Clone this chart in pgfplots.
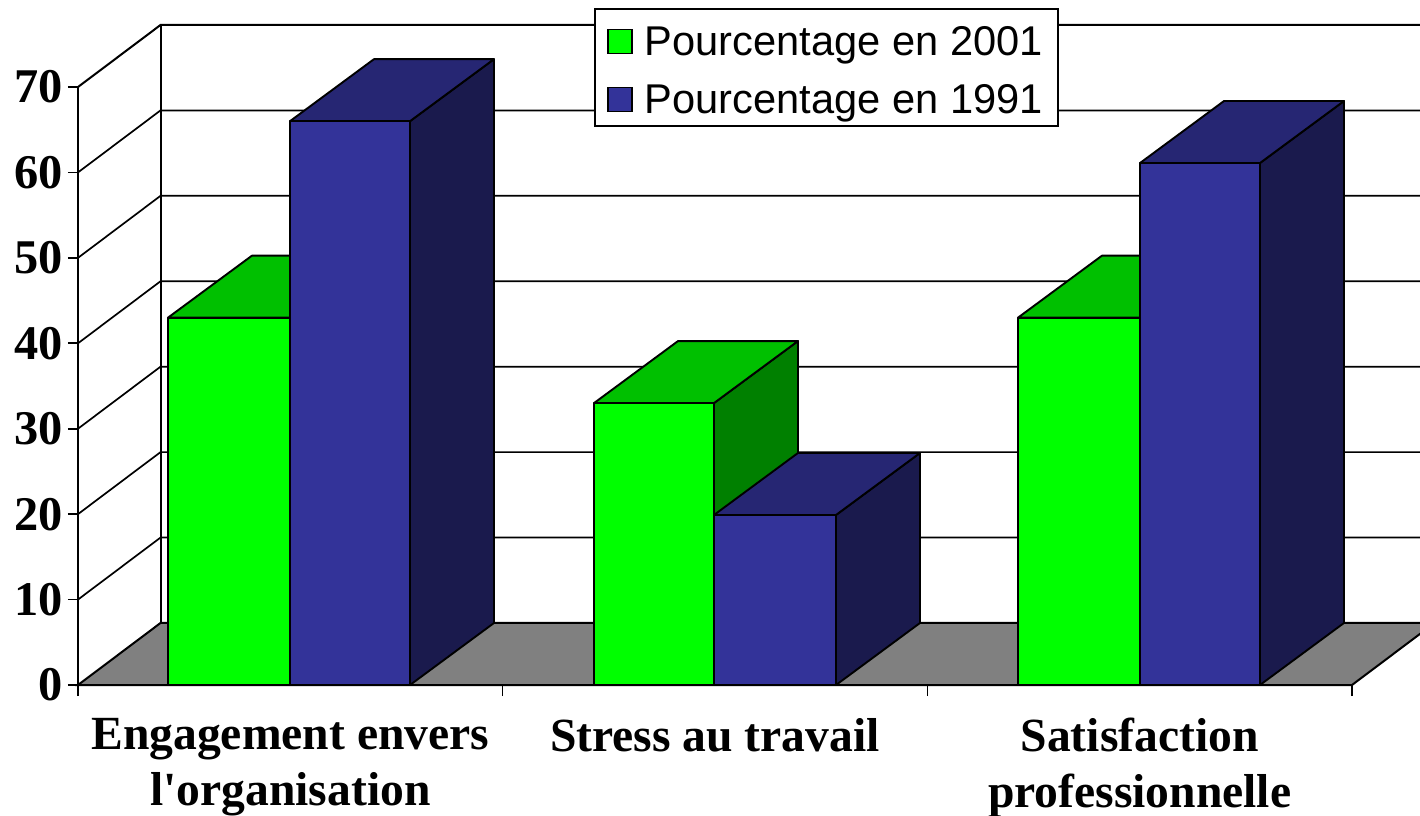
\documentclass[border=0pt]{standalone}
\usepackage{pgfplots}
\pgfplotsset{compat=1.18}
\usepackage{fontspec}
\newfontfamily\labfont{Liberation Serif}
\newfontfamily\legfont{Liberation Sans}
\definecolor{gfront}{HTML}{00FF00}
\definecolor{gtop}{HTML}{00C000}
\definecolor{gside}{HTML}{008000}
\definecolor{bfront}{HTML}{333399}
\definecolor{btop}{HTML}{262673}
\definecolor{bside}{HTML}{1A1A4D}
\definecolor{floorc}{HTML}{808080}
\def\dX{0.1978}
\def\dY{7.26}
\newcommand{\facepoly}[9]{%
  \edef\tmp{\noexpand\addplot[forget plot,fill=#9,draw=black,line width=0.95pt,line join=round] coordinates {(#1,#2) (#3,#4) (#5,#6) (#7,#8)} --cycle;}\tmp}
\newcommand{\barbox}[6]{% x0, x1, value, front, top, side
  \pgfmathsetmacro\xa{#1+\dX}\pgfmathsetmacro\xb{#2+\dX}\pgfmathsetmacro\vt{#3+\dY}%
  \facepoly{#2}{0}{\xb}{\dY}{\xb}{\vt}{#2}{#3}{#6}%
  \facepoly{#1}{#3}{#2}{#3}{\xb}{\vt}{\xa}{\vt}{#5}%
  \facepoly{#1}{0}{#2}{0}{#2}{#3}{#1}{#3}{#4}%
}
\begin{document}
\begin{tikzpicture}
\path[clip,use as bounding box] (-39pt,-65pt) rectangle (671pt,342.5pt);
\begin{axis}[
  at={(0pt,0pt)},anchor=origin,
  scale only axis,width=637pt,height=299pt,
  xmin=0,xmax=3,ymin=0,ymax=70,
  clip=false,
  axis x line=bottom,axis y line=left,
  axis line style={-,line width=1pt,black},
  xtick={0.5,1.5,2.5},
  xticklabels={{Engagement envers\\l'organisation},{Stress au travail},{Satisfaction\\professionnelle}},
  minor xtick={0,1,2,3},
  ytick={0,10,20,30,40,50,60,70},
  major tick style={black,line width=0.8pt},
  minor tick style={black,line width=0.8pt},
  xtick style={draw=none},
  minor x tick style={draw=black},
  minor tick length=5.5pt,
  major tick length=5pt,
  tick align=outside,
  /pgf/number format/assume math mode=true,
  yticklabel style={font=\labfont\bfseries\fontsize{24.2}{28}\selectfont,inner sep=0pt,xshift=-2.5pt},
  xticklabel style={font=\labfont\bfseries\fontsize{23.8}{28}\selectfont,align=center,anchor=north,inner sep=0pt,yshift=-11.4pt},
  legend style={at={(axis cs:1.2151,79.25)},anchor=north west,draw=black,fill=white,line width=0.9pt,
    font=\legfont\fontsize{20.8}{24}\selectfont,inner xsep=5.5pt,inner ysep=2.5pt,
    nodes={text height=19pt},
    /tikz/row sep=4.5pt},
  legend cell align=left,
  legend image code/.code={\draw[#1,line width=0.7pt] (1pt,-7.5pt) rectangle (13pt,4.5pt);\path[draw=none,fill=none] (0pt,0pt) -- (17.5pt,0pt);},
]
% walls and gridlines
\addplot[forget plot,draw=black,line width=1pt] coordinates {(0.1943,7.26) (0.1943,77.26)};
\addplot[forget plot,draw=black,line width=1pt] coordinates {(0,70) (0.1943,77.26) (3.1943,77.26)};
\addplot[forget plot,draw=black,line width=0.85pt] coordinates {(0,60) (0.1943,67.26) (3.1943,67.26)};
\addplot[forget plot,draw=black,line width=0.85pt] coordinates {(0,50) (0.1943,57.26) (3.1943,57.26)};
\addplot[forget plot,draw=black,line width=0.85pt] coordinates {(0,40) (0.1943,47.26) (3.1943,47.26)};
\addplot[forget plot,draw=black,line width=0.85pt] coordinates {(0,30) (0.1943,37.26) (3.1943,37.26)};
\addplot[forget plot,draw=black,line width=0.85pt] coordinates {(0,20) (0.1943,27.26) (3.1943,27.26)};
\addplot[forget plot,draw=black,line width=0.85pt] coordinates {(0,10) (0.1943,17.26) (3.1943,17.26)};
% floor
\addplot[forget plot,fill=floorc,draw=black,line width=1pt] coordinates {(0,0) (3,0) (3.1943,7.26) (0.1943,7.26)} --cycle;
% bars
\barbox{0.2119}{0.4992}{43}{gfront}{gtop}{gside}
\barbox{0.4992}{0.7818}{66}{bfront}{btop}{bside}
\barbox{1.2151}{1.4976}{33}{gfront}{gtop}{gside}
\barbox{1.4976}{1.7849}{19.9}{bfront}{btop}{bside}
\barbox{2.2135}{2.5008}{43}{gfront}{gtop}{gside}
\barbox{2.5008}{2.7833}{61.1}{bfront}{btop}{bside}
\addlegendimage{fill=gfront,draw=black}
\addlegendentry{Pourcentage en 2001}
\addlegendimage{fill=bfront,draw=black}
\addlegendentry{Pourcentage en 1991}
\end{axis}
\end{tikzpicture}
\end{document}
